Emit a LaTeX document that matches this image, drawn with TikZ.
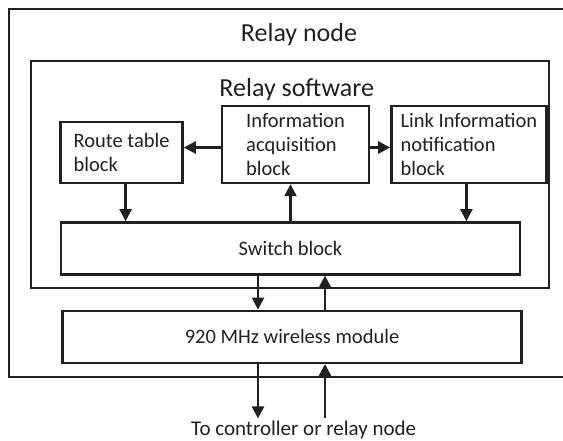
\documentclass[tikz,border=0pt]{standalone}
\usepackage{fontspec}
\setmainfont{Carlito}
\usepackage{xcolor}
\usetikzlibrary{arrows.meta,positioning}
\definecolor{ink}{RGB}{35,31,32}

\begin{document}
\begin{tikzpicture}[
    x=1pt, y=-1pt,
    node distance=37pt,
    blk/.style={rectangle, draw=ink, line width=2.4pt, inner sep=0pt, align=left, text=ink, font=\fontsize{20.5}{24}\selectfont},
    frame/.style={rectangle, draw=ink, line width=2.4pt, inner sep=0pt, outer sep=0pt, anchor=north west},
    ttl/.style={anchor=base, inner sep=0pt, text=ink, font=\fontsize{26}{30}\selectfont},
    arrow/.style={-{Triangle[length=12pt, width=12pt]}, draw=ink, line width=2.4pt}
]
\path[use as bounding box, clip] (0,0) rectangle (563,441);
\node[frame, minimum width=563pt, minimum height=368pt] (relaynode) at (9,9) {};
\node[frame, minimum width=518pt, minimum height=227pt] (software) at (31,61) {};
\node[ttl] (nodettl) at (299,41.7) {Relay node};
\node[ttl] (swttl) at (296.7,97) {Relay software};
\node[blk, minimum width=147pt, minimum height=77pt] (info) at (295.5,144.5) {Information\\acquisition\\block};
\node[blk, minimum width=122pt, minimum height=61pt, left=of info.south west, anchor=south east] (route) {Route table\\block};
\node[blk, minimum width=155pt, minimum height=77pt, right=20pt of info] (link) {Link Information\\notification\\block};
\node[blk, minimum width=459pt, minimum height=52pt, below=of info, xshift=-5pt] (switch) {Switch block};
\node[blk, minimum width=459pt, minimum height=52pt, below=34pt of switch, xshift=1.5pt] (wireless) {920 MHz wireless module};
\node[anchor=base, inner sep=0pt, outer sep=2pt, text=ink, font=\fontsize{21}{25}\selectfont] (dest) at (303.7,435) {To controller or relay node};
\coordinate (tap) at ([yshift=-3pt]info.west);
\coordinate (r1) at ([xshift=4pt]route.south);
\coordinate (l1) at ([xshift=-2.5pt]link.south);
\coordinate (s1) at ([xshift=-32.5pt]switch.south);
\coordinate (s2) at ([xshift=34.5pt]switch.south);
\coordinate (w1) at ([xshift=-34pt]wireless.south);
\coordinate (w2) at ([xshift=33pt]wireless.south);
\draw[arrow] (tap) -- (tap -| route.east);
\draw[arrow] (tap -| info.east) -- (tap -| link.west);
\draw[arrow] (r1) -- (r1 |- switch.north);
\draw[arrow] (switch.north) -- (switch.north |- info.south);
\draw[arrow] (l1) -- (l1 |- switch.north);
\draw[arrow] (s1) -- (s1 |- wireless.north);
\draw[arrow] (s2 |- wireless.north) -- (s2);
\draw[arrow] (w1) -- (w1 |- dest.north);
\draw[arrow] (w2 |- dest.north) -- (w2);
\end{tikzpicture}
\end{document}
